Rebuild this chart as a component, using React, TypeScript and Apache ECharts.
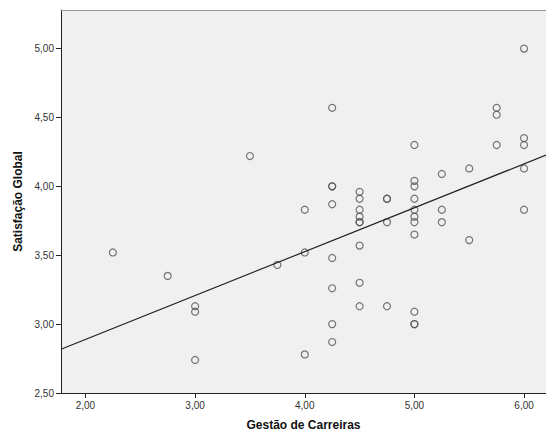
import React, { useEffect, useRef } from "react";
import * as echarts from "echarts";

// Gestão de Carreiras (x) vs Satisfação Global (y)
const gestaoCarreiras: number[] = [
  2.25,
  2.75,
  3.0, 3.0, 3.0,
  3.5,
  3.75,
  4.0, 4.0, 4.0,
  4.25, 4.25, 4.25, 4.25, 4.25, 4.25, 4.25, 4.25,
  4.5, 4.5, 4.5, 4.5, 4.5, 4.5, 4.5, 4.5, 4.5,
  4.75, 4.75, 4.75, 4.75,
  5.0, 5.0, 5.0, 5.0, 5.0, 5.0, 5.0, 5.0, 5.0, 5.0, 5.0,
  5.25, 5.25, 5.25,
  5.5, 5.5,
  5.75, 5.75, 5.75,
  6.0, 6.0, 6.0, 6.0, 6.0,
];
const satisfacaoGlobal: number[] = [
  3.52,
  3.35,
  3.13, 3.09, 2.74,
  4.22,
  3.43,
  3.83, 3.52, 2.78,
  4.57, 4.0, 4.0, 3.87, 3.48, 3.26, 3.0, 2.87,
  3.96, 3.91, 3.83, 3.78, 3.74, 3.74, 3.57, 3.3, 3.13,
  3.91, 3.91, 3.74, 3.13,
  4.3, 4.04, 4.0, 3.91, 3.83, 3.78, 3.74, 3.65, 3.09, 3.0, 3.0,
  4.09, 3.83, 3.74,
  4.13, 3.61,
  4.57, 4.52, 4.3,
  5.0, 4.35, 4.3, 4.13, 3.83,
];

// Linear fit line: y = intercept + slope * x
const fitIntercept = 2.252;
const fitSlope = 0.3185;

const xTicks: number[] = [2, 3, 4, 5, 6];
const yTicks: number[] = [2.5, 3, 3.5, 4, 4.5, 5];
const xMin = 1.777;
const xMax = 6.2;
const yMin = 2.5;
const yMax = 5.28;

const fmt = (v: number) => Number(v).toFixed(2).replace(".", ",");

export default function App() {
  const ref = useRef<HTMLDivElement>(null);
  useEffect(() => {
    if (!ref.current) return;
    const chart = echarts.init(ref.current, undefined, { renderer: "svg" });
    const points = gestaoCarreiras.map((x, i) => [x, satisfacaoGlobal[i]]);
    const fitLine = [
      [xMin, fitIntercept + fitSlope * xMin],
      [xMax, fitIntercept + fitSlope * xMax],
    ];
    const font = "'Liberation Sans', Arial, sans-serif";
    chart.setOption({
      animation: false,
      textStyle: { fontFamily: font },
      grid: {
        left: 61,
        right: 0,
        top: 10,
        bottom: 40,
        show: true,
        backgroundColor: "#f0f0f0",
        borderWidth: 0,
      },
      xAxis: [
        {
          type: "value",
          min: xMin,
          max: xMax,
          name: "Gestão de Carreiras",
          nameLocation: "middle",
          nameGap: 26,
          nameTextStyle: { fontSize: 12, fontWeight: "bold", color: "#111", fontFamily: font },
          axisLine: { show: true, lineStyle: { color: "#222", width: 1 } },
          axisTick: { show: true, length: 5, customValues: xTicks, lineStyle: { color: "#222" } },
          axisLabel: {
            customValues: xTicks,
            formatter: (v: number) => fmt(v),
            fontSize: 10,
            color: "#333",
            margin: 7,
            fontFamily: font,
          },
          splitLine: { show: false },
        },
        {
          type: "value",
          position: "top",
          min: xMin,
          max: xMax,
          axisLine: { show: true, lineStyle: { color: "#999", width: 1 } },
          axisTick: { show: false },
          axisLabel: { show: false },
          splitLine: { show: false },
        },
      ],
      yAxis: {
        type: "value",
        min: yMin,
        max: yMax,
        name: "Satisfação Global",
        nameLocation: "middle",
        nameGap: 30,
        nameTextStyle: { fontSize: 12, fontWeight: "bold", color: "#111", fontFamily: font },
        axisLine: { show: true, lineStyle: { color: "#222", width: 1 } },
        axisTick: { show: true, length: 5, customValues: yTicks, lineStyle: { color: "#222" } },
        axisLabel: {
          customValues: yTicks,
          formatter: (v: number) => fmt(v),
          fontSize: 10,
          color: "#333",
          margin: 7,
          fontFamily: font,
        },
        splitLine: { show: false },
      },
      series: [
        {
          type: "scatter",
          data: points,
          symbol: "circle",
          symbolSize: 7,
          itemStyle: { color: "transparent", borderColor: "#555", borderWidth: 1.2 },
          emphasis: { disabled: true },
        },
        {
          type: "line",
          data: fitLine,
          showSymbol: false,
          symbol: "none",
          lineStyle: { color: "#222", width: 1.2 },
          emphasis: { disabled: true },
        },
      ],
    });
    return () => chart.dispose();
  }, []);
  return (
    <div
      ref={ref}
      style={{ position: "absolute", left: 0, top: 0, width: 546, height: 436, background: "#fff" }}
    />
  );
}
